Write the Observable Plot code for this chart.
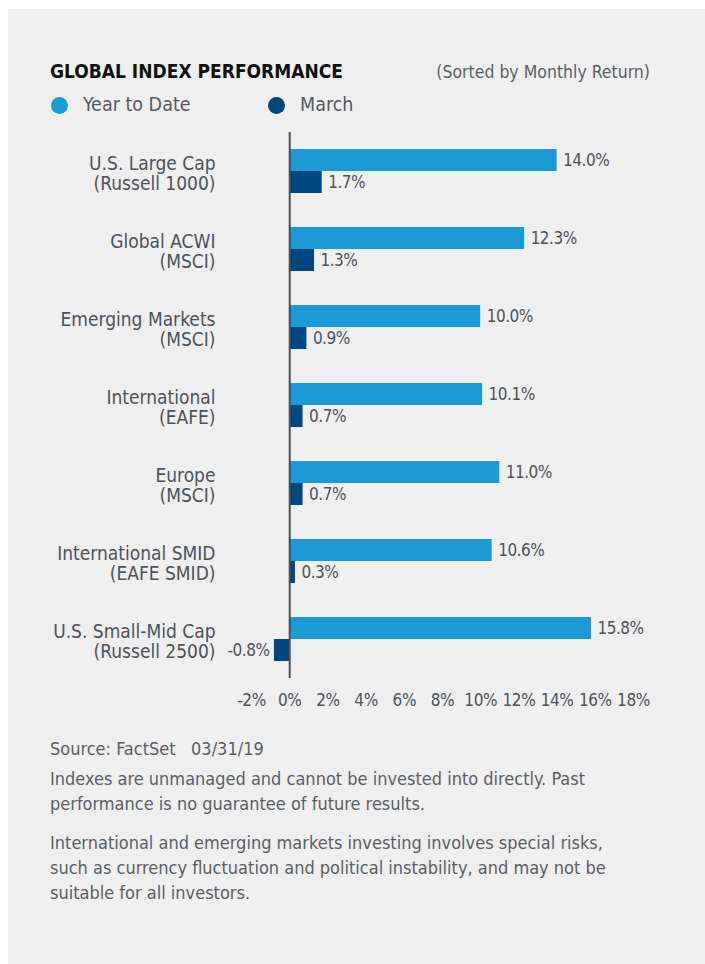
<!DOCTYPE html>
<html>
<head>
<meta charset="utf-8">
<script src="https://cdn.jsdelivr.net/npm/d3@7"></script>
<script src="https://cdn.jsdelivr.net/npm/@observablehq/plot@0.6"></script>
<style>
  html, body { margin: 0; padding: 0; background: #ffffff; }
  body { width: 705px; height: 964px; position: relative; overflow: hidden;
         font-family: "Liberation Sans Narrow", "DejaVu Sans Condensed", "Roboto", sans-serif; }
  #panel { position: absolute; left: 8px; top: 9px; width: 697px; height: 955px; background: #efefef; }
  .abs { position: absolute; white-space: nowrap; }
  #title { left: 50px; top: 59px; font-size: 19px; line-height: 24px; font-weight: bold; color: #111; }
  #subtitle { right: 55px; top: 60px; font-size: 17.5px; line-height: 24px; color: #5a5e64; }
  .legtext { top: 93px; font-size: 19.5px; line-height: 24px; color: #55595f; }
  .dot { position: absolute; width: 17px; height: 17px; border-radius: 50%; }
  .note { left: 50px; font-size: 18px; line-height: 25px; color: #5a5e64; }
  #chart { position: absolute; left: 0; top: 0; }
  #chart g[aria-label="text"] text { letter-spacing: -0.5px; }
  #chart g[aria-label="x-axis tick label"] text { letter-spacing: -0.4px; }
</style>
</head>
<body>
<div id="panel"></div>
<div id="title" class="abs">GLOBAL INDEX PERFORMANCE</div>
<div id="subtitle" class="abs">(Sorted by Monthly Return)</div>
<div id="dot0" class="dot" style="left:50.5px; top:96.5px;"></div>
<div id="leg0" class="abs legtext" style="left:83px;"></div>
<div id="dot1" class="dot" style="left:267.5px; top:96.5px;"></div>
<div id="leg1" class="abs legtext" style="left:300px;"></div>
<div id="chart"></div>
<div class="abs note" style="top:736px;">Source: FactSet&nbsp;&nbsp;&nbsp;03/31/19</div>
<div class="abs note" style="top:766px;">Indexes are unmanaged and cannot be invested into directly. Past<br>performance is no guarantee of future results.</div>
<div class="abs note" style="top:830px;">International and emerging markets investing involves special risks,<br>such as currency fluctuation and political instability, and may not be<br>suitable for all investors.</div>
<script>
const categories = [
  "U.S. Large Cap\n(Russell 1000)",
  "Global ACWI\n(MSCI)",
  "Emerging Markets\n(MSCI)",
  "International\n(EAFE)",
  "Europe\n(MSCI)",
  "International SMID\n(EAFE SMID)",
  "U.S. Small-Mid Cap\n(Russell 2500)"
];
const series = ["Year to Date", "March"];
const ytd = [14.0, 12.3, 10.0, 10.1, 11.0, 10.6, 15.8];
const march = [1.7, 1.3, 0.9, 0.7, 0.7, 0.3, -0.8];
const xTicks = [-2, 0, 2, 4, 6, 8, 10, 12, 14, 16, 18];
const colors = ["#1c9ad6", "#00467f"];

const data = categories.flatMap((c, i) => [
  {category: c, series: series[0], value: ytd[i]},
  {category: c, series: series[1], value: march[i]}
]);

document.getElementById("leg0").textContent = series[0];
document.getElementById("leg1").textContent = series[1];
document.getElementById("dot0").style.background = colors[0];
document.getElementById("dot1").style.background = colors[1];

const fmt = d => d.value.toFixed(1) + "%";
const H = 730;

const chart = Plot.plot({
  width: 705,
  height: H,
  marginTop: 129,
  marginBottom: H - 681,
  marginLeft: 251,
  marginRight: 72,
  style: {
    background: "transparent",
    fontFamily: "'Liberation Sans Narrow', 'DejaVu Sans Condensed', Roboto, sans-serif",
    fontSize: "19px",
    color: "#4d5259",
    overflow: "visible"
  },
  x: {domain: [-2, 18]},
  y: {domain: series, paddingInner: 0, paddingOuter: 0.7},
  fy: {domain: categories, padding: 0},
  color: {domain: series, range: colors},
  marks: [
    Plot.barX(data, {fy: "category", y: "series", x: "value", fill: "series"}),
    Plot.ruleX([0], {stroke: "#4b4e53", strokeWidth: 2}),
    Plot.text(data, {filter: d => d.value >= 0, fy: "category", y: "series", x: "value",
      text: fmt, textAnchor: "start", dx: 6, fill: "#4d5259", fontSize: 17}),
    Plot.text(data, {filter: d => d.value < 0, fy: "category", y: "series", x: "value",
      text: fmt, textAnchor: "end", dx: -5, fill: "#4d5259", fontSize: 17}),
    Plot.axisX({ticks: xTicks, tickFormat: d => d + "%", tickSize: 0, tickPadding: 15, label: null, fontSize: 17}),
    Plot.axisY({ticks: [], label: null, tickSize: 0}),
    Plot.axisFy({anchor: "left", tickSize: 0, tickPadding: 36, label: null, dy: 2, lineHeight: 1.06, fontSize: 19})
  ]
});
document.getElementById("chart").appendChild(chart);
</script>
</body>
</html>
